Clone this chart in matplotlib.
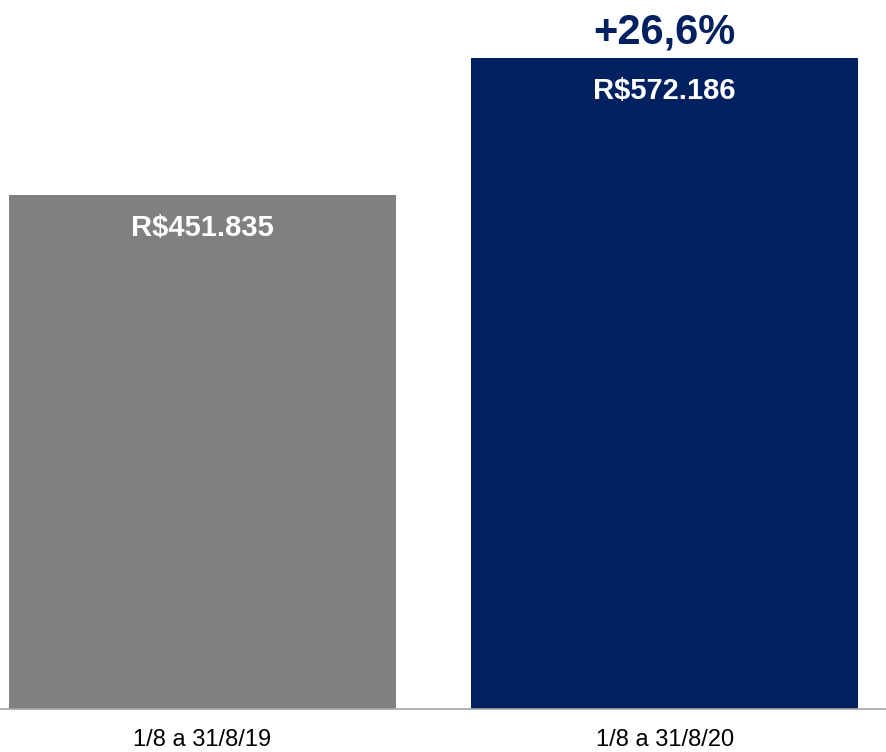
import matplotlib
matplotlib.use('Agg')
import matplotlib.pyplot as plt

plt.rcParams['font.family'] = ['Liberation Sans', 'DejaVu Sans']

periods = ['1/8 a 31/8/19', '1/8 a 31/8/20']
values = [451835, 572186]
value_labels = ['R$451.835', 'R$572.186']
growth_label = '+26,6%'
colors = ['#808080', '#002060']

fig = plt.figure(figsize=(8.86, 7.52), dpi=100)
ax = fig.add_axes([0, 43 / 752, 1, 709 / 752])

x = range(len(periods))
bars = ax.bar(x, values, width=0.838, color=colors)

ax.set_xlim(-0.438, 1.479)
ax.set_ylim(0, values[1] * 709 / 651)

for bar, lab in zip(bars, value_labels):
    ax.annotate(lab, (bar.get_x() + bar.get_width() / 2, bar.get_height()),
                xytext=(0, -24), textcoords='offset points',
                ha='center', va='center', color='white',
                fontsize=21, fontweight='bold')

top = bars[1]
ax.annotate(growth_label, (top.get_x() + top.get_width() / 2, top.get_height()),
            xytext=(0, 18), textcoords='offset points',
            ha='center', va='center', color='#002060',
            fontsize=30, fontweight='bold')

ax.set_xticks(list(x))
ax.set_xticklabels(periods, fontsize=17)
ax.tick_params(axis='x', length=0, pad=14.5)
ax.set_yticks([])
for side in ['top', 'right', 'left']:
    ax.spines[side].set_visible(False)
ax.spines['bottom'].set_color('#a6a6a6')
ax.spines['bottom'].set_linewidth(1.2)

fig.savefig('out.png', dpi=100)
